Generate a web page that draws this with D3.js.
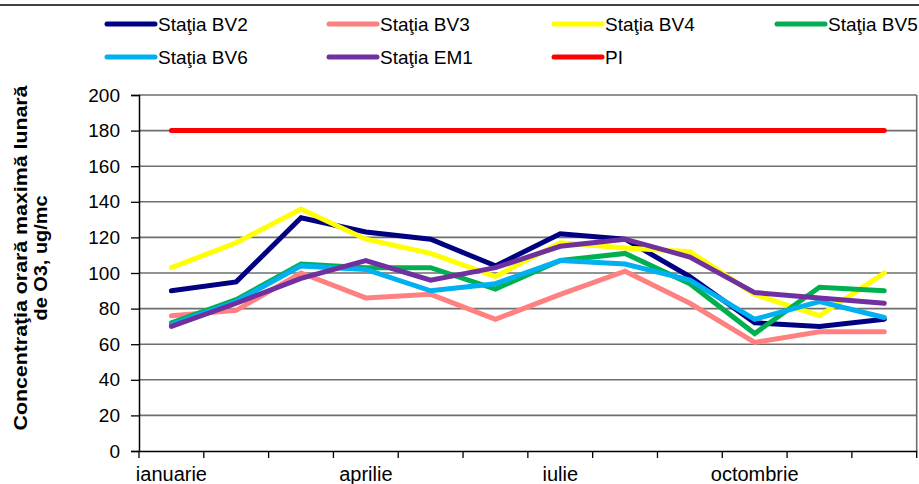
<!DOCTYPE html>
<html><head><meta charset="utf-8">
<script src="https://cdn.jsdelivr.net/npm/d3@7"></script>
<style>
html,body{margin:0;padding:0;background:#fff;}
svg{display:block;font-family:Arial,"Liberation Sans",sans-serif;}
</style></head>
<body>
<svg id="c" width="919" height="484"></svg>
<script>
const months = ["ianuarie","februarie","martie","aprilie","mai","iunie","iulie","august","septembrie","octombrie","noiembrie","decembrie"];
const shownLabels = ["ianuarie","aprilie","iulie","octombrie"];
const yTicks = [0,20,40,60,80,100,120,140,160,180,200];
const seriesNames = ["Staţia BV2","Staţia BV3","Staţia BV4","Staţia BV5","Staţia BV6","Staţia EM1","PI"];
const seriesColors = ["#000080","#FF8080","#FFFF00","#00B050","#00B0F0","#7030A0","#FF0000"];
const bv2 = [90,95,131,123,119,104,122,119,98,72,70,74];
const bv3 = [76,79,100,86,88,74,88,101,83,61,67,67];
const bv4 = [103,117,136,119,111,98,117,114,112,88,76,100];
const bv5 = [72,85,105,103,103,91,107,111,94,66,92,90];
const bv6 = [71,84,104,102,90,94,107,105,96,74,84,75];
const em1 = [70,83,97,107,96,103,115,119,109,89,86,83];
const pi  = [180,180,180,180,180,180,180,180,180,180,180,180];
const seriesValues = [bv2,bv3,bv4,bv5,bv6,em1,pi];

const svg = d3.select("#c");
const L = 139, R = 916.7, T = 95, B = 451;
const x = d3.scaleBand().domain(months).range([L,R]).padding(0);
const y = d3.scaleLinear().domain([0,200]).range([B,T]);

// top border
svg.append("line").attr("x1",0).attr("x2",919).attr("y1",5).attr("y2",5)
  .attr("stroke","#000").attr("stroke-width",1.5);

// gridlines
svg.append("g").selectAll("line").data(yTicks.filter(d=>d>0)).join("line")
  .attr("x1",L).attr("x2",R).attr("y1",d=>y(d)).attr("y2",d=>y(d))
  .attr("stroke","#6e6e6e").attr("stroke-width",1.6);

// right border
svg.append("line").attr("x1",R).attr("x2",R).attr("y1",T).attr("y2",B)
  .attr("stroke","#6e6e6e").attr("stroke-width",1.6);

// y axis
const ya = svg.append("g").attr("transform",`translate(${L},0)`)
  .call(d3.axisLeft(y).tickValues(yTicks).tickSize(8).tickPadding(11));
ya.select(".domain").attr("stroke","#000").attr("stroke-width",1.5);
ya.selectAll(".tick line").attr("stroke","#000").attr("stroke-width",1.3);
ya.selectAll("text").attr("font-size",19).attr("fill","#000")
  .attr("font-family","Arial,'Liberation Sans',sans-serif");

// x axis
const xa = svg.append("g").attr("transform",`translate(0,${B})`)
  .call(d3.axisBottom(x).tickValues([]).tickSizeOuter(0));
xa.select(".domain").attr("stroke","#000").attr("stroke-width",1.5);
const bounds = months.map(m=>x(m)).concat([R]);
xa.selectAll("line.tk").data(bounds).join("line").attr("class","tk")
  .attr("x1",d=>d).attr("x2",d=>d).attr("y1",0).attr("y2",7)
  .attr("stroke","#000").attr("stroke-width",1.3);
xa.selectAll("text.lbl").data(shownLabels).join("text").attr("class","lbl")
  .attr("x",d=>x(d)+x.bandwidth()/2).attr("y",30)
  .attr("text-anchor","middle").attr("font-size",20).attr("fill","#000")
  .text(d=>d);

// lines
const line = d3.line().x((d,i)=>x(months[i])+x.bandwidth()/2).y(d=>y(d));
svg.append("g").selectAll("path").data(seriesValues).join("path")
  .attr("d",d=>line(d)).attr("fill","none")
  .attr("stroke",(d,i)=>seriesColors[i]).attr("stroke-width",5)
  .attr("stroke-linejoin","miter").attr("stroke-linecap","round");

// legend
const legCols = [105,327,552,775];
const leg = svg.append("g");
seriesNames.forEach((n,i)=>{
  const col = i<4 ? i : i-4;
  const row = i<4 ? 0 : 1;
  const lx = legCols[col], ly = row===0 ? 24 : 57;
  leg.append("line").attr("x1",lx+2).attr("x2",lx+50).attr("y1",ly).attr("y2",ly)
    .attr("stroke",seriesColors[i]).attr("stroke-width",5).attr("stroke-linecap","round");
  leg.append("text").attr("x",lx+53).attr("y",ly+6.5).attr("font-size",19)
    .attr("fill","#000").text(n);
});

// y title
const yt = svg.append("text").attr("transform","translate(27,258) rotate(-90)")
  .attr("text-anchor","middle").attr("font-size",19).attr("font-weight","bold").attr("fill","#000");
yt.append("tspan").attr("x",0).attr("y",0)
  .attr("textLength",345).attr("lengthAdjust","spacingAndGlyphs")
  .text("Concentraţia orară maximă  lunară");
yt.append("tspan").attr("x",0).attr("y",20)
  .attr("textLength",125).attr("lengthAdjust","spacingAndGlyphs")
  .text("de O3, ug/mc");
</script>
</body></html>
